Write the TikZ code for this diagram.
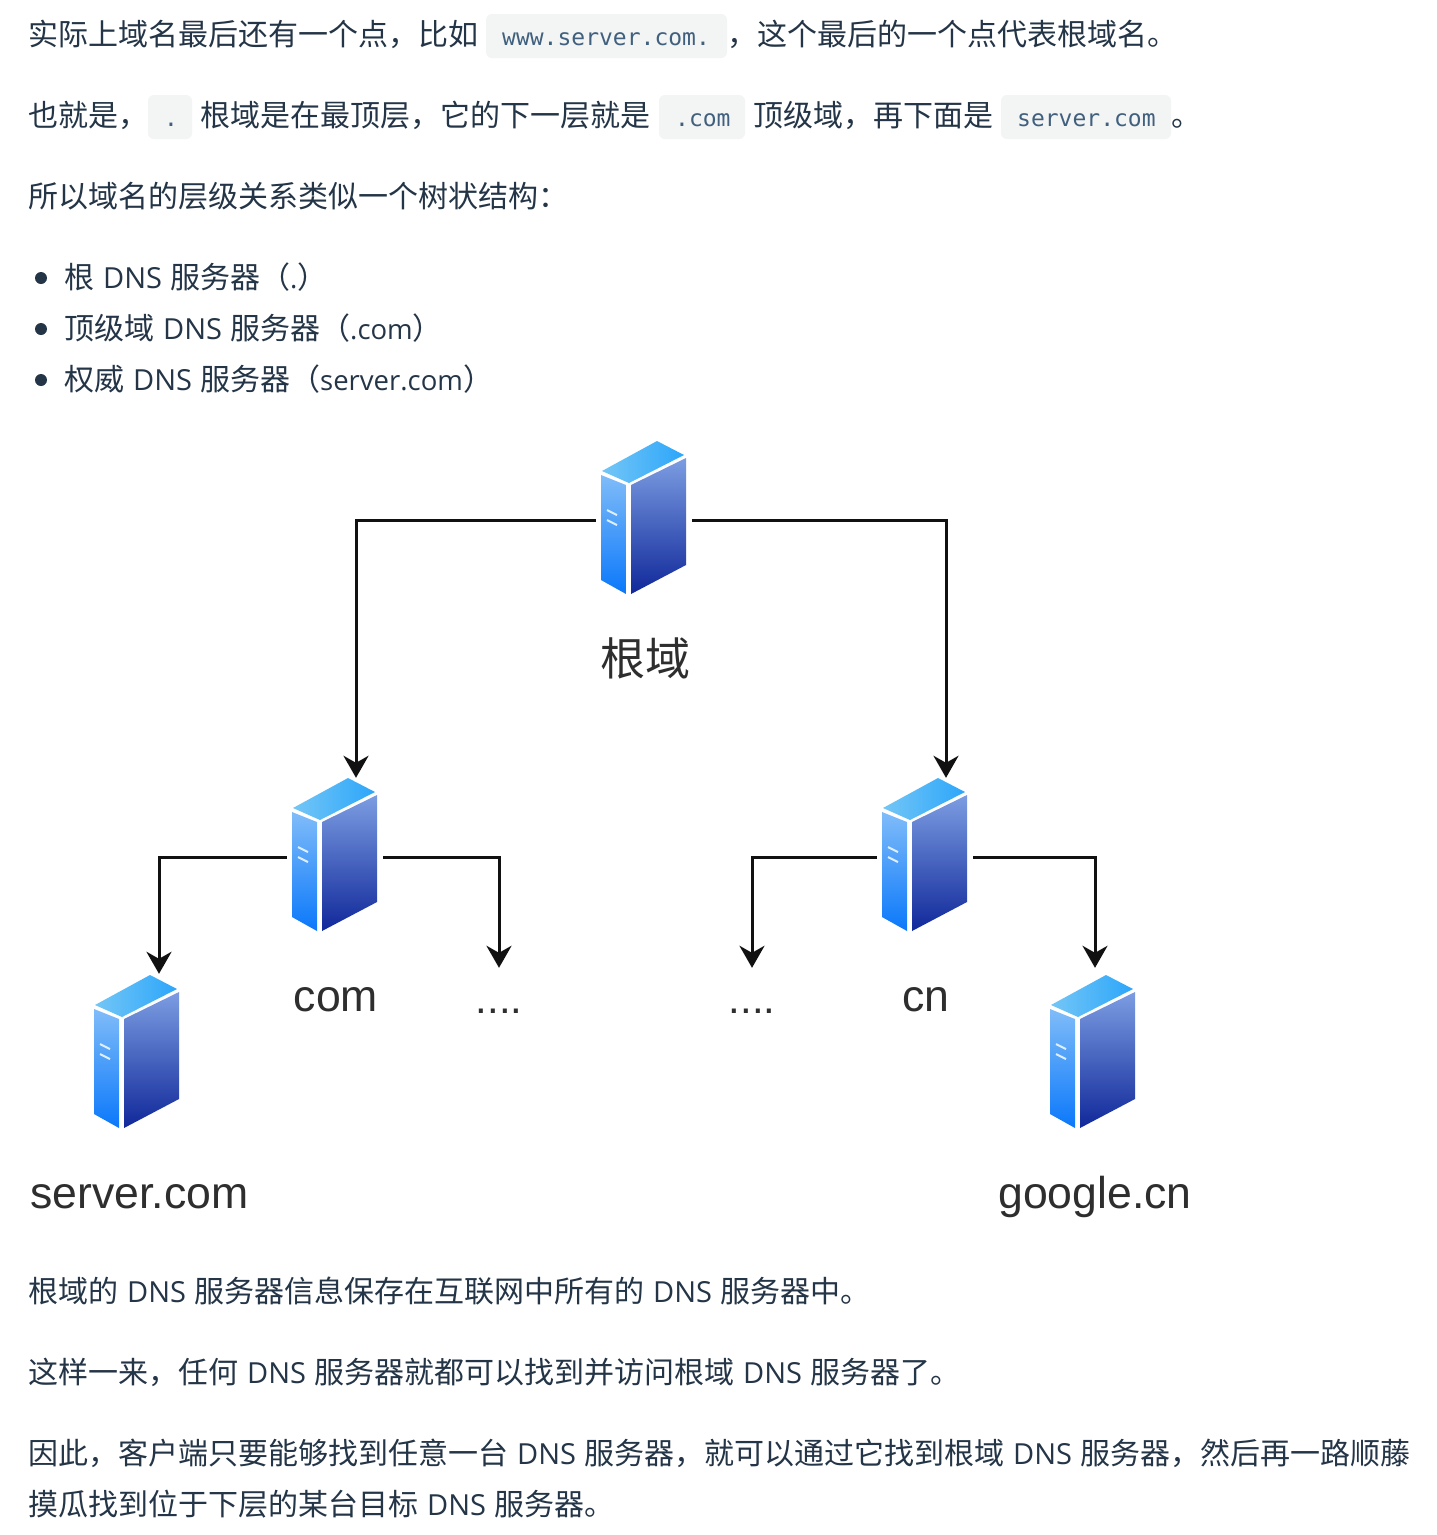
\documentclass[tikz,border=0pt]{standalone}
\usepackage{fontspec}
\usetikzlibrary{arrows.meta}
\setmainfont{Open Sans}
\newfontfamily\cjk{Noto Sans CJK SC}
\newfontfamily\lat{Open Sans}
\newfontfamily\mon{DejaVu Sans Mono}
\newfontfamily\arl{Liberation Sans}
\definecolor{ink}{HTML}{243547}
\definecolor{codebg}{HTML}{F3F4F4}
\definecolor{codefg}{HTML}{40607E}
\definecolor{linec}{HTML}{111111}
\definecolor{lab}{HTML}{2E2E2E}
\newcommand{\dnsw}{\hspace{9pt}\makebox[59pt][l]{\lat\fontsize{29}{36}\selectfont DNS}\hspace{8pt}}
\newcommand{\latw}[1]{{\lat\fontsize{27.5}{36}\selectfont #1}}
\tikzset{
  x=1pt,y=-1pt,
  txt/.style={anchor=base west,inner sep=0pt,text=ink,font=\cjk\fontsize{30}{36}\selectfont},
  code/.style={anchor=base west,inner sep=0pt,text=codefg,font=\mon\fontsize{23}{28}\selectfont},
  codebox/.style={fill=codebg,rounded corners=6pt},
  srvnode/.style={minimum width=96pt,minimum height=156pt,inner sep=0pt},
  lbl/.style={anchor=base west,inner sep=0pt,text=lab,font=\arl\fontsize{44.6}{50}\selectfont},
  dotsn/.style={anchor=base,inner sep=0pt,text=lab,text height=45pt,font=\arl\fontsize{42}{46}\selectfont},
  conn/.style={draw=linec,line width=3pt,-{Stealth[length=22pt,width=25pt,inset=7pt]}},
  bul/.style={circle,fill=ink,inner sep=0pt,minimum size=12pt},
  server/.pic={
    \shade[left color=SrvA,right color=SrvB] (-42,-46) -- (13,-76) -- (40,-62) -- (-15,-34) -- cycle;
    \shade[top color=SrvC,bottom color=SrvD] (-43,-42) -- (-18,-32) -- (-18,77) -- (-43,63) -- cycle;
    \shade[top color=SrvE,bottom color=SrvF] (-13,-32) -- (42,-59) -- (42,48) -- (-13,77) -- cycle;
    \draw[SrvG,line width=2pt] (-37,-7) -- (-27,-2) (-37,3) -- (-27,8);
  }
}
\definecolor{SrvA}{HTML}{74C6F6}
\definecolor{SrvB}{HTML}{2CA6FA}
\definecolor{SrvC}{HTML}{80BCF9}
\definecolor{SrvD}{HTML}{0A78FA}
\definecolor{SrvE}{HTML}{7C9DE2}
\definecolor{SrvF}{HTML}{10289A}
\definecolor{SrvG}{HTML}{DCEEFF}
\begin{document}
\begin{tikzpicture}
\useasboundingbox[fill=white] (0,0) rectangle (1436,1535);
% code backgrounds
\fill[codebox] (486,14) rectangle (727,58);
\fill[codebox] (148,95) rectangle (192,139);
\fill[codebox] (659,95) rectangle (745,139);
\fill[codebox] (1001,95) rectangle (1171,139);
% top text
\node[txt] (l1a) at (28,45.5) {实际上域名最后还有一个点，比如};
\node[code] (c1) at (502,45) {www.server.com.};
\node[txt] (l1b) at (727,45.5) {，这个最后的一个点代表根域名。};
\node[txt] (l2a) at (28,126.5) {也就是，};
\node[code] (c2) at (164,126) {.};
\node[txt] (l2b) at (200,126.5) {根域是在最顶层，它的下一层就是};
\node[code] (c3) at (675,126) {.com};
\node[txt] (l2c) at (753,126.5) {顶级域，再下面是};
\node[code] (c4) at (1017,126) {server.com};
\node[txt] (l2d) at (1171,126.5) {。};
\node[txt] (l3) at (28,207.5) {所以域名的层级关系类似一个树状结构：};
% bullets
\node[bul] (b1) at (41,278) {};
\node[bul] (b2) at (41,329) {};
\node[bul] (b3) at (41,380) {};
\node[txt] (t1) at (64,288.5) {根\dnsw 服务器（\latw{.}）};
\node[txt] (t2) at (64,339.5) {顶级域\dnsw 服务器（\latw{.com}）};
\node[txt] (t3) at (64,390.5) {权威\dnsw 服务器（\latw{server.com}）};
% servers
\node[srvnode] (root) at (644,520) {};
\node[srvnode] (com) at (335,857) {};
\node[srvnode] (cn) at (925,857) {};
\node[srvnode] (srv) at (137,1052) {};
\node[srvnode] (goo) at (1093,1046) {};
\pic at (644,517) {server};
\pic at (335,854) {server};
\pic at (925,854) {server};
\pic at (137,1051) {server};
\pic at (1093,1051) {server};
% labels
\node[anchor=base,inner sep=0pt,text=lab,font=\cjk\fontsize{45}{50}\selectfont] (lroot) at (645,675) {根域};
\node[lbl,anchor=base] (lcom) at (336,1011) {com};
\node[lbl,anchor=base] (lcn) at (926,1011) {cn};
\node[lbl] (lsrv) at (30,1208) {server.com};
\node[lbl] (lgoo) at (998,1208) {google.cn};
\node[dotsn] (d1) at (499,1013) {....};
\node[dotsn] (d2) at (752,1013) {....};
% connectors
\draw[conn] (root.west) -| ([xshift=21pt,yshift=1pt]com.north);
\draw[conn] (root.east) -| ([xshift=21pt,yshift=1pt]cn.north);
\draw[conn] (com.west) -| ([xshift=22pt]srv.north);
\draw[conn] (com.east) -| (d1.north);
\draw[conn] (cn.west) -| (d2.north);
\draw[conn] (cn.east) -| ([xshift=2pt]goo.north);
% bottom text
\node[txt] (p1) at (28,1302.5) {根域的\dnsw 服务器信息保存在互联网中所有的\dnsw 服务器中。};
\node[txt] (p2) at (28,1383.5) {这样一来，任何\dnsw 服务器就都可以找到并访问根域\dnsw 服务器了。};
\node[txt] (p3) at (28,1464.5) {因此，客户端只要能够找到任意一台\dnsw 服务器，就可以通过它找到根域\dnsw 服务器，然后再一路顺藤};
\node[txt] (p4) at (28,1515.5) {摸瓜找到位于下层的某台目标\dnsw 服务器。};
\end{tikzpicture}
\end{document}
